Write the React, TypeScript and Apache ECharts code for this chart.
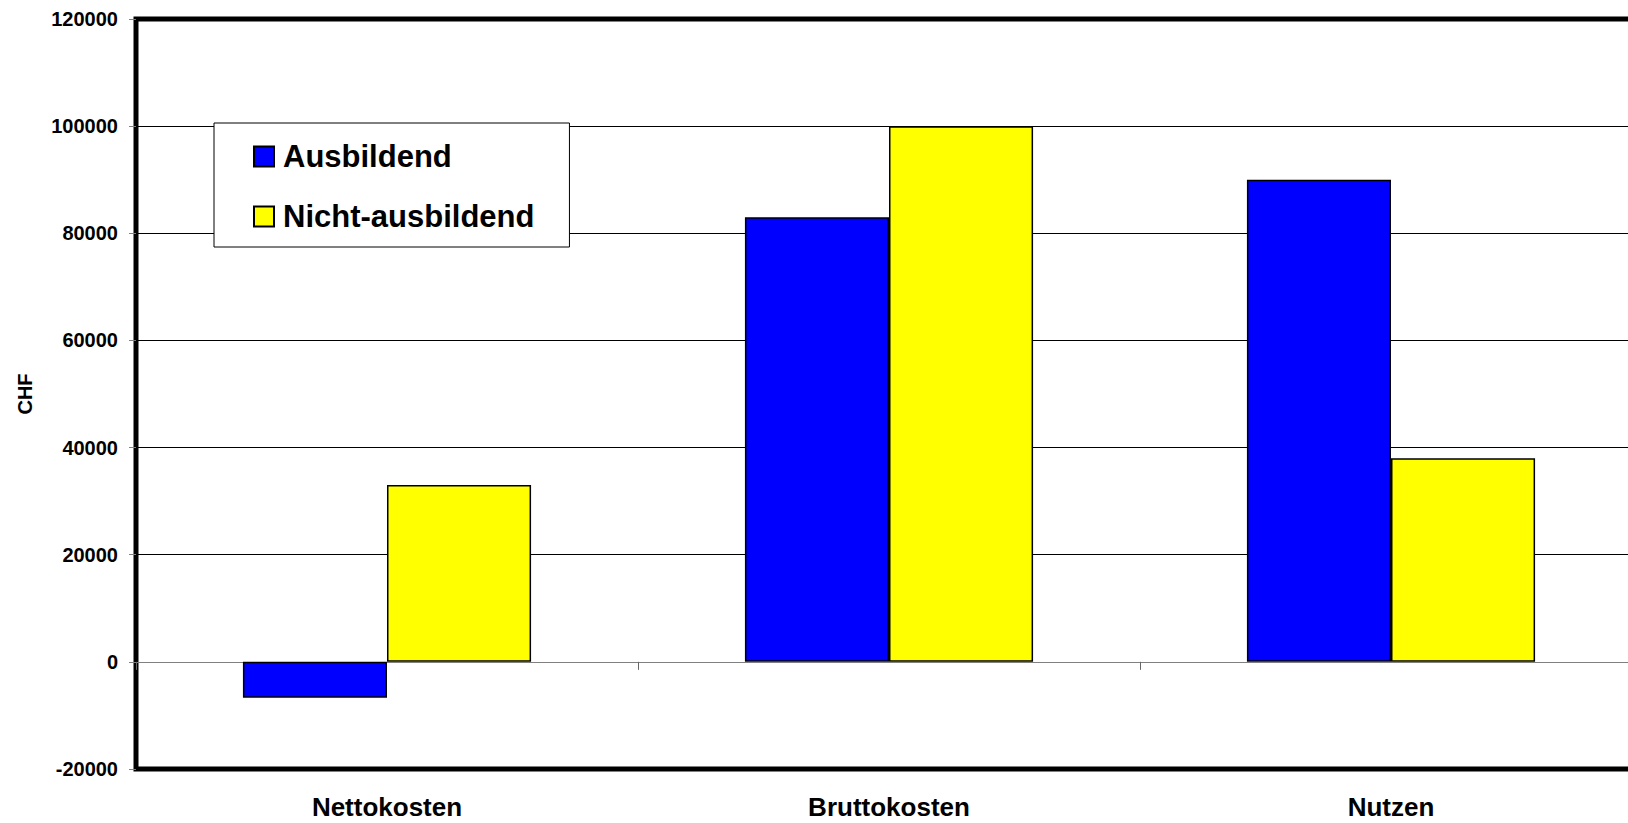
import React, { useEffect, useRef } from "react";
import * as echarts from "echarts";

const categories = ["Nettokosten", "Bruttokosten", "Nutzen"];
const ausbildend = [-6700, 83000, 90000];
const nichtAusbildend = [33000, 100000, 38000];
const seriesNames = ["Ausbildend", "Nicht-ausbildend"];
const yTicks = { min: -20000, max: 120000, interval: 20000 };

const FONT = "'Liberation Sans', Arial, Helvetica, sans-serif";

export default function App() {
  const ref = useRef<HTMLDivElement>(null);

  useEffect(() => {
    if (!ref.current) return;
    const chart = echarts.init(ref.current, null, { renderer: "svg" });
    chart.setOption({
      animation: false,
      backgroundColor: "#ffffff",
      grid: {
        left: 136,
        right: 18,
        top: 19,
        bottom: 54,
        show: true,
        borderColor: "#000",
        borderWidth: 5,
        backgroundColor: "transparent",
      },
      legend: {
        orient: "vertical",
        left: 214,
        top: 123,
        padding: [18, 35, 15, 39],
        itemGap: 29,
        itemWidth: 20,
        itemHeight: 20,
        icon: "rect",
        backgroundColor: "#fff",
        borderColor: "#000",
        borderWidth: 1,
        textStyle: {
          fontFamily: FONT,
          fontSize: 31,
          fontWeight: "bold",
          color: "#000",
          padding: [0, 0, 0, 4],
        },
        data: seriesNames,
      },
      xAxis: [
        {
          type: "category",
          data: categories,
          position: "bottom",
          axisLine: { show: false, onZero: false },
          axisTick: { show: false },
          splitLine: { show: false },
          axisLabel: {
            margin: 25,
            fontFamily: FONT,
            fontSize: 26,
            fontWeight: "bold",
            color: "#000",
          },
        },
        {
          type: "category",
          data: categories,
          position: "top",
          axisLine: { show: true, onZero: true, lineStyle: { color: "#808080", width: 1 } },
          axisTick: { show: true, inside: true, length: 8, lineStyle: { color: "#666" } },
          axisLabel: { show: false },
          splitLine: { show: false },
        },
      ],
      yAxis: {
        type: "value",
        min: yTicks.min,
        max: yTicks.max,
        interval: yTicks.interval,
        name: "CHF",
        nameLocation: "middle",
        nameRotate: 90,
        nameGap: 101,
        nameTextStyle: {
          fontFamily: FONT,
          fontSize: 20,
          fontWeight: "bold",
          color: "#000",
        },
        axisLine: { show: false },
        axisTick: { show: true, length: 7, lineStyle: { color: "#808080" } },
        axisLabel: {
          margin: 18,
          fontFamily: FONT,
          fontSize: 20,
          fontWeight: "bold",
          color: "#000",
          formatter: (v: number) => String(v),
        },
        splitLine: { show: true, lineStyle: { color: "#000", width: 1 } },
      },
      series: [
        {
          name: seriesNames[0],
          type: "bar",
          data: ausbildend,
          barGap: "0%",
          barCategoryGap: "42.6%",
          itemStyle: { color: "#0000ff", borderColor: "#000", borderWidth: 1.5 },
        },
        {
          name: seriesNames[1],
          type: "bar",
          data: nichtAusbildend,
          barGap: "0%",
          barCategoryGap: "42.6%",
          itemStyle: { color: "#ffff00", borderColor: "#000", borderWidth: 1.5 },
        },
      ],
    });
    return () => chart.dispose();
  }, []);

  return (
    <div
      style={{
        position: "fixed",
        left: 0,
        top: 0,
        width: 1628,
        height: 823,
        overflow: "hidden",
        background: "#fff",
      }}
    >
      <div ref={ref} style={{ width: 1660, height: 823 }} />
    </div>
  );
}
